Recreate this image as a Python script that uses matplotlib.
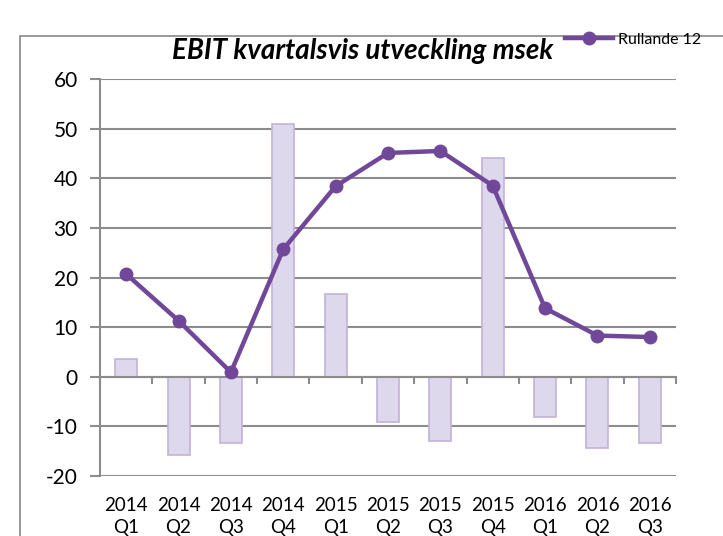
import matplotlib.pyplot as plt
from matplotlib.patches import Rectangle

plt.rcParams["font.family"] = ["Lato", "DejaVu Sans"]

kvartal = ["2014\nQ1", "2014\nQ2", "2014\nQ3", "2014\nQ4", "2015\nQ1", "2015\nQ2",
           "2015\nQ3", "2015\nQ4", "2016\nQ1", "2016\nQ2", "2016\nQ3"]
ebit = [3.6, -15.8, -13.3, 51.0, 16.7, -9.1, -12.9, 44.0, -8.1, -14.3, -13.3]
rullande = [20.7, 11.3, 0.9, 25.7, 38.4, 45.1, 45.5, 38.5, 13.8, 8.3, 8.0]
y_ticks = [-20, -10, 0, 10, 20, 30, 40, 50, 60]

grid_col = "#8c8c8c"
bar_face = "#ded8ec"
bar_edge = "#c2b2da"
line_col = "#71479a"

fig = plt.figure(figsize=(7.23, 5.36), dpi=100)
fig.patches.append(Rectangle((20 / 723, -0.1), 1.2, 1 - 36 / 536 + 0.1,
                             transform=fig.transFigure, fill=False,
                             edgecolor="#888888", linewidth=1.2))

ax = fig.add_axes([100 / 723, 1 - 476 / 536, 576 / 723, 397 / 536])
x = list(range(len(kvartal)))

ax.bar(x, ebit, width=0.42, color=bar_face, edgecolor=bar_edge, linewidth=1.2, zorder=2)
ax.plot(x, rullande, color=line_col, linewidth=3.2, marker="o", markersize=9,
        zorder=3, label="Rullande 12")

ax.set_xlim(-0.5, len(kvartal) - 0.5)
ax.set_ylim(-20, 60)
ax.set_yticks(y_ticks)
ax.set_yticklabels([str(v) for v in y_ticks])
ax.yaxis.grid(True, color=grid_col, linewidth=1.5, zorder=0)
ax.set_axisbelow(True)
ax.tick_params(axis="y", labelsize=15, length=7, color=grid_col, width=1.5, pad=9)

for s in ["top", "right"]:
    ax.spines[s].set_visible(False)
ax.spines["left"].set_color(grid_col)
ax.spines["left"].set_linewidth(1.5)
ax.spines["bottom"].set_position(("data", 0))
ax.spines["bottom"].set_color(grid_col)
ax.spines["bottom"].set_linewidth(1.5)
ax.set_xticks([i - 0.5 for i in range(len(kvartal) + 1)])
ax.set_xticklabels([])
ax.tick_params(axis="x", length=5, color=grid_col, width=1.5)

sec = ax.secondary_xaxis("bottom")
sec.set_xticks(x)
sec.set_xticklabels(kvartal, fontsize=13.5, linespacing=1.4)
sec.tick_params(length=0, pad=15)
sec.spines["bottom"].set_visible(False)

fig.text(363 / 723, 1 - 51 / 536, "EBIT kvartalsvis utveckling msek", fontsize=20,
         fontweight="bold", fontstyle="italic", ha="center", va="center")
fig.legend(loc="center left", bbox_to_anchor=(565 / 723, 1 - 40 / 536), frameon=False,
           fontsize=11.5, handlelength=3.0, borderpad=0, borderaxespad=0, handletextpad=0.3)

fig.savefig("out.png", dpi=100)
